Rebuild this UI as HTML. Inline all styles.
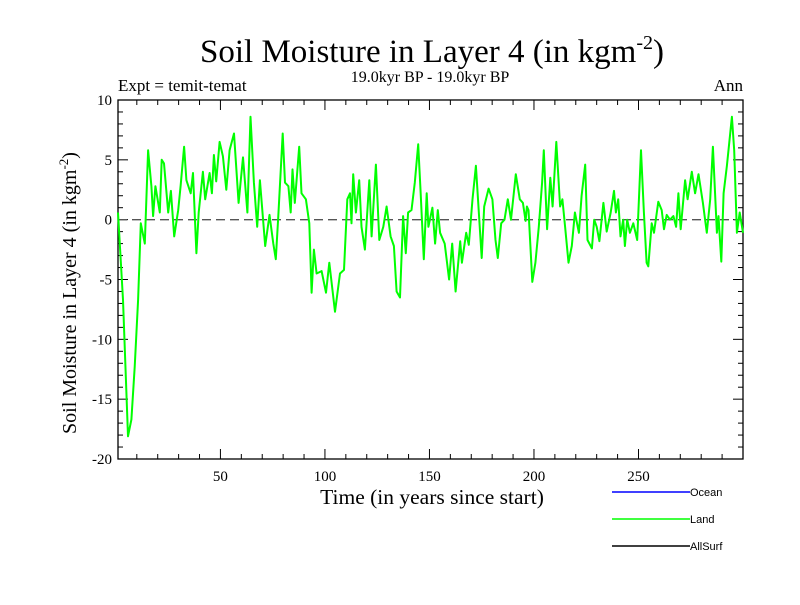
<!DOCTYPE html>
<html><head><meta charset="utf-8"><style>
body{margin:0;background:#fff}
svg text{font-family:"Liberation Serif",serif}
</style></head><body>
<svg id="chart" width="800" height="600" xmlns="http://www.w3.org/2000/svg">
<rect width="800" height="600" fill="#fff"/>
<text x="432" y="62" font-size="33" text-anchor="middle">Soil Moisture in Layer 4 (in kgm<tspan font-size="20" dy="-13">-2</tspan><tspan dy="13">)</tspan></text>
<text x="430" y="82" font-size="16" text-anchor="middle">19.0kyr BP - 19.0kyr BP</text>
<text x="118" y="91" font-size="17">Expt = temit-temat</text>
<text x="743" y="91" font-size="17" text-anchor="end">Ann</text>
<text x="432" y="504" font-size="21.5" text-anchor="middle">Time (in years since start)</text>
<text transform="translate(76,293) rotate(-90)" font-size="20" text-anchor="middle">Soil Moisture in Layer 4 (in kgm<tspan font-size="13" dy="-8">-2</tspan><tspan dy="8">)</tspan></text>
<g id="axes"></g>
<g id="plot"></g>
<g>
<line x1="612" y1="492" x2="690" y2="492" stroke="#0000ff" stroke-width="1.5"/>
<text x="690" y="496" font-size="11" style="font-family:'Liberation Sans',sans-serif">Ocean</text>
<line x1="612" y1="519" x2="690" y2="519" stroke="#00ff00" stroke-width="1.5"/>
<text x="690" y="523" font-size="11" style="font-family:'Liberation Sans',sans-serif">Land</text>
<line x1="612" y1="546" x2="690" y2="546" stroke="#000" stroke-width="1.5"/>
<text x="690" y="550" font-size="11" style="font-family:'Liberation Sans',sans-serif">AllSurf</text>
</g>
</svg>
<script>
const years=[1,3.4,5.8,7.4,9,10.6,11.9,13.8,15.4,17,17.8,18.9,21,21.9,23,25,26.3,27.9,29.8,31,32.6,33.7,35.8,36.9,38.5,39.6,41.6,42.7,44.8,45.9,46.9,48,49.6,51.2,52.8,54.4,56.5,58.7,60.8,62.9,64.4,66,67.6,68.9,71.4,73.5,75.3,76.5,77.7,79.8,80.9,82.5,83.6,84.5,85.6,87.7,88.8,90.9,92.5,93.6,94.7,96,98.4,100.5,102.1,104.8,107.2,109.1,110.7,112,112.7,113.5,114.8,116.4,117.5,119.1,121.2,122.3,124.4,126,127.9,129.5,131.4,133,134.3,135.9,137.4,138.7,139.8,141.4,143,144.6,145.7,147.3,148.7,149.5,151.4,152.7,154,155.1,157.3,159.4,160.9,162.5,164.7,165.5,167.6,168.8,170.6,172.2,175,176.2,178.3,180.1,181.6,182.7,184.3,185.9,187.5,189,191.3,193.2,194.7,196,196.6,197.4,199.2,200.7,202.3,203.9,204.7,206.3,207.8,208.9,210.7,212.5,213.6,214.9,216.5,218.1,219.6,221.5,222.8,224.5,225.6,227.7,228.8,230,231.3,233.2,234.8,236.7,238.3,239.2,240.3,241.4,242.7,243.5,244.6,245.9,247.5,249.4,251.2,252.6,253.9,254.7,256.3,257.4,259.5,261.1,262.2,263.5,265.1,266.7,268,269.1,270.2,272.3,273.5,275.5,277.1,278.7,280.8,282.7,284.3,285.6,287.5,288.3,289.6,290.7,292.3,294.7,295.8,297.1,298.4,300];
const landValues=[0.6,-6.7,-18.1,-16.7,-12.3,-6.7,-0.3,-2,5.8,2.8,0.3,2.8,0.6,5,4.7,0.6,2.4,-1.4,0.8,2.9,6.1,3.3,2.2,3.9,-2.8,0.6,4,1.7,3.9,2.2,5.4,3.2,6.5,5.3,2.5,5.8,7.2,1.4,5.2,0.6,8.6,3.1,-0.6,3.3,-2.2,0.4,-2,-3.3,0.3,7.2,3.1,2.8,0.6,4.2,1.4,6.1,2.2,1.7,-0.3,-6.1,-2.5,-4.5,-4.3,-6.1,-3.6,-7.7,-4.5,-4.2,1.7,2.2,-0.3,3.8,0.6,3.3,-0.6,-2.5,3.3,-1.4,4.6,-1.7,-0.6,1.1,-1.4,-2.2,-6,-6.5,0.3,-2.8,0.6,0.8,3.1,6.3,2.5,-3.3,2.2,-0.6,1,-2,0.8,-1.1,-2,-5,-2,-6,-1.8,-3.6,-1.1,-2.1,1.7,4.5,-3.2,1.1,2.6,1.7,-1.7,-3.2,-0.3,0,1.7,0,3.8,1.7,1.4,-0.1,1.1,0.8,-5.2,-3.6,-0.6,3.1,5.8,-0.8,3.5,1.1,6.5,1.1,1.7,-0.6,-3.6,-2.2,0.6,-1.1,2,4.6,-1.7,-2.4,0,-0.6,-1.8,1.4,-1,0.6,2.4,0.6,1.7,-1.4,0,-2.2,0,-1.1,-0.3,-1.7,5.8,0.6,-3.6,-3.9,-0.3,-1.1,1.5,0.8,-0.8,0.4,0,0.3,-0.6,2.2,-0.8,3.3,1.7,4,2.2,3.8,1.4,-1.1,1.7,6.1,-1.1,0.3,-3.5,2.2,4.5,8.6,5.8,-1.1,0.6,-1.1];
const xTicks=[50,100,150,200,250];
const yTicks=[10,5,0,-5,-10,-15,-20];
const X0=118,X1=743,Y0=100,Y1=459,XMIN=1,XMAX=300,YMIN=-20,YMAX=10;
const sx=v=>X0+(v-XMIN)/(XMAX-XMIN)*(X1-X0);
const sy=v=>Y0+(YMAX-v)/(YMAX-YMIN)*(Y1-Y0);
const NS="http://www.w3.org/2000/svg";
const axes=document.getElementById('axes'),plot=document.getElementById('plot');
function mk(t,a,p){const e=document.createElementNS(NS,t);for(const k in a)e.setAttribute(k,a[k]);p.appendChild(e);return e;}
const frame=mk('rect',{x:X0,y:Y0,width:X1-X0,height:Y1-Y0,fill:'none',stroke:'#000','stroke-width':1.3},axes);


for(let v=10;v<=300;v+=10){const x=sx(v);const L=v%50===0?10:5;
mk('line',{x1:x,y1:Y1,x2:x,y2:Y1-L,stroke:'#000'},axes);mk('line',{x1:x,y1:Y0,x2:x,y2:Y0+L,stroke:'#000'},axes);}
for(let v=-20;v<=10;v++){const y=sy(v);const L=v%5===0?10:5;
mk('line',{x1:X0,y1:y,x2:X0+L,y2:y,stroke:'#000'},axes);mk('line',{x1:X1,y1:y,x2:X1-L,y2:y,stroke:'#000'},axes);}
xTicks.forEach(v=>{const t=mk('text',{x:sx(v),y:Y1+22,'font-size':15,'text-anchor':'middle'},axes);t.textContent=v;

});
yTicks.forEach(v=>{const t=mk('text',{x:X0-6,y:sy(v)+5,'font-size':15,'text-anchor':'end'},axes);t.textContent=v;

});
const zl=mk('line',{x1:X0,y1:sy(0),x2:X1,y2:sy(0),stroke:'#555','stroke-width':1.3,'stroke-dasharray':'9,5'},plot);


const pts=years.map((y,i)=>sx(y).toFixed(1)+','+sy(landValues[i]).toFixed(1)).join(' ');
const pl=mk('polyline',{points:pts,fill:'none',stroke:'#00ff00','stroke-width':2,'stroke-linejoin':'round'},plot);


</script>
</body></html>
